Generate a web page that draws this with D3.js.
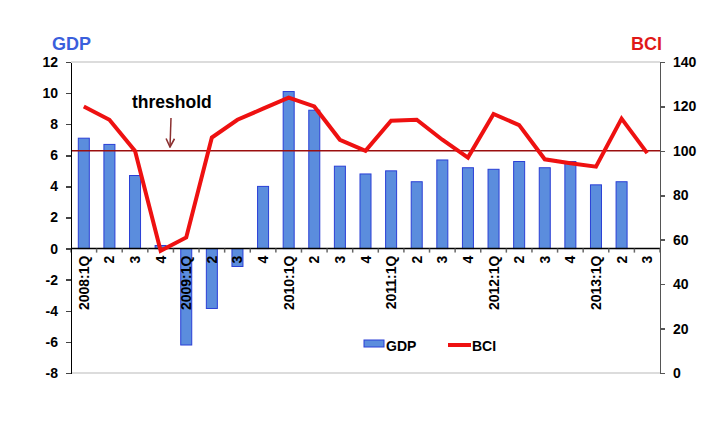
<!DOCTYPE html>
<html>
<head>
<meta charset="utf-8">
<script src="https://cdn.jsdelivr.net/npm/d3@7"></script>
<style>
  body { margin: 0; background: #fff; }
  svg text { font-family: "Liberation Sans", Arial, sans-serif; font-weight: bold; }
  .axis path, .axis line { shape-rendering: crispEdges; }
</style>
</head>
<body>
<div id="chart"></div>
<script>
const quarters = ["2008:1Q","2","3","4","2009:1Q","2","3","4","2010:1Q","2","3","4",
  "2011:1Q","2","3","4","2012:1Q","2","3","4","2013:1Q","2","3"];
const gdp = [7.1, 6.7, 4.7, 0.2, -6.2, -3.85, -1.15, 4.0, 10.1, 8.9, 5.3, 4.8,
  5.0, 4.3, 5.7, 5.2, 5.1, 5.6, 5.2, 5.6, 4.1, 4.3, null];
const bci = [120, 114, 100, 55, 61, 106, 114, 119, 124, 120, 105, 100,
  113.6, 114, 105, 97, 116.6, 111.6, 96.2, 94.4, 92.9, 114.5, 99];
const gdpTicks = [-8, -6, -4, -2, 0, 2, 4, 6, 8, 10, 12];
const bciTicks = [0, 20, 40, 60, 80, 100, 120, 140];
const threshold = 100;

const width = 725, height = 442;
const margin = { top: 62, right: 65, bottom: 69, left: 71 };
const w = width - margin.left - margin.right;
const h = height - margin.top - margin.bottom;

const svg = d3.select("#chart").append("svg")
  .attr("width", width)
  .attr("height", height);

const g = svg.append("g")
  .attr("transform", "translate(" + margin.left + "," + margin.top + ")");

const x = d3.scaleBand()
  .domain(d3.range(quarters.length))
  .range([0, w])
  .paddingInner(0.57)
  .paddingOuter(0.285);

const yL = d3.scaleLinear().domain([-8, 12]).range([h, 0]);
const yR = d3.scaleLinear().domain([0, 140]).range([h, 0]);

const cx = i => x(i) + x.bandwidth() / 2;

// top and bottom frame lines
g.append("line").attr("x1", 0).attr("x2", w).attr("y1", 0).attr("y2", 0)
  .attr("stroke", "#d0d0d0").attr("stroke-width", 1.5);
g.append("line").attr("x1", 0).attr("x2", w).attr("y1", h).attr("y2", h)
  .attr("stroke", "#d0d0d0").attr("stroke-width", 1.5);

// bars
g.selectAll(".bar")
  .data(gdp.map((v, i) => ({ i, v })).filter(d => d.v !== null))
  .enter().append("rect")
  .attr("class", "bar")
  .attr("x", d => x(d.i))
  .attr("width", x.bandwidth())
  .attr("y", d => yL(Math.max(0, d.v)))
  .attr("height", d => Math.abs(yL(d.v) - yL(0)))
  .attr("fill", "#5b8ddd")
  .attr("stroke", "#2a3fd6")
  .attr("stroke-width", 1);

// threshold line
g.append("line")
  .attr("x1", 0).attr("x2", w)
  .attr("y1", yR(threshold)).attr("y2", yR(threshold))
  .attr("stroke", "#9b0f0f").attr("stroke-width", 1.5);

// x axis at zero
const step = x.step();
g.append("line")
  .attr("x1", 0).attr("x2", w)
  .attr("y1", yL(0)).attr("y2", yL(0))
  .attr("stroke", "#000").attr("stroke-width", 1.5);
g.selectAll(".xtick")
  .data(d3.range(quarters.length + 1))
  .enter().append("line")
  .attr("x1", i => i * step).attr("x2", i => i * step)
  .attr("y1", yL(0)).attr("y2", yL(0) + 4)
  .attr("stroke", "#666").attr("stroke-width", 1.5);
g.selectAll(".xlabel")
  .data(quarters)
  .enter().append("text")
  .attr("transform", (d, i) => "translate(" + (cx(i) + 5) + "," + (yL(0) + 7) + ") rotate(-90)")
  .attr("text-anchor", "end")
  .attr("font-size", 14)
  .text(d => d);

// BCI line
const line = d3.line()
  .x((d, i) => cx(i))
  .y(d => yR(d));
g.append("path")
  .attr("d", line(bci))
  .attr("fill", "none")
  .attr("stroke", "#ee1111")
  .attr("stroke-width", 4)
  .attr("stroke-linejoin", "miter");

// left axis
const leftAxis = g.append("g")
  .attr("class", "axis")
  .call(d3.axisLeft(yL).tickValues(gdpTicks).tickSize(5).tickSizeOuter(0).tickPadding(8)
    .tickFormat(d => String(d)));
leftAxis.select(".domain").attr("stroke", "#000").attr("stroke-width", 1.5);
leftAxis.selectAll("line").attr("stroke", "#444").attr("stroke-width", 1.5);
leftAxis.selectAll("text").attr("font-size", 14).attr("fill", "#000")
  .style("font-family", "'Liberation Sans', Arial, sans-serif").style("font-weight", "bold");

// right axis
const rightAxis = g.append("g")
  .attr("class", "axis")
  .attr("transform", "translate(" + w + ",0)")
  .call(d3.axisRight(yR).tickValues(bciTicks).tickSize(5).tickSizeOuter(0).tickPadding(8)
    .tickFormat(d => String(d)));
rightAxis.select(".domain").attr("stroke", "#555").attr("stroke-width", 1.5);
rightAxis.selectAll("line").attr("stroke", "#555").attr("stroke-width", 1.5);
rightAxis.selectAll("text").attr("font-size", 14).attr("fill", "#000")
  .style("font-family", "'Liberation Sans', Arial, sans-serif").style("font-weight", "bold");

// axis titles
svg.append("text").attr("x", 52).attr("y", 50)
  .attr("font-size", 18).attr("fill", "#3a5fdc").text("GDP");
svg.append("text").attr("x", 631).attr("y", 50)
  .attr("font-size", 18).attr("fill", "#e01818").text("BCI");

// threshold annotation
svg.append("text").attr("x", 132).attr("y", 108)
  .attr("font-size", 17.5).attr("fill", "#000").text("threshold");
svg.append("defs").append("marker")
  .attr("id", "arrow")
  .attr("viewBox", "0 0 10 10")
  .attr("refX", 9).attr("refY", 5)
  .attr("markerWidth", 7).attr("markerHeight", 7)
  .attr("orient", "auto")
  .append("path")
  .attr("d", "M1,1 L9,5 L1,9")
  .attr("fill", "none")
  .attr("stroke", "#8b3030")
  .attr("stroke-width", 1.5);
svg.append("line")
  .attr("x1", 171).attr("x2", 170)
  .attr("y1", 118).attr("y2", 147)
  .attr("stroke", "#8b3030").attr("stroke-width", 1.5)
  .attr("marker-end", "url(#arrow)");

// legend
const legend = svg.append("g").attr("transform", "translate(364,340)");
legend.append("rect").attr("x", 0).attr("y", 0).attr("width", 20).attr("height", 7)
  .attr("fill", "#5b8ddd").attr("stroke", "#2a3fd6");
legend.append("text").attr("x", 22).attr("y", 11).attr("font-size", 14).text("GDP");
legend.append("line").attr("x1", 84).attr("x2", 107).attr("y1", 5).attr("y2", 5)
  .attr("stroke", "#ee1111").attr("stroke-width", 4);
legend.append("text").attr("x", 108).attr("y", 11).attr("font-size", 14).text("BCI");
</script>
</body>
</html>
